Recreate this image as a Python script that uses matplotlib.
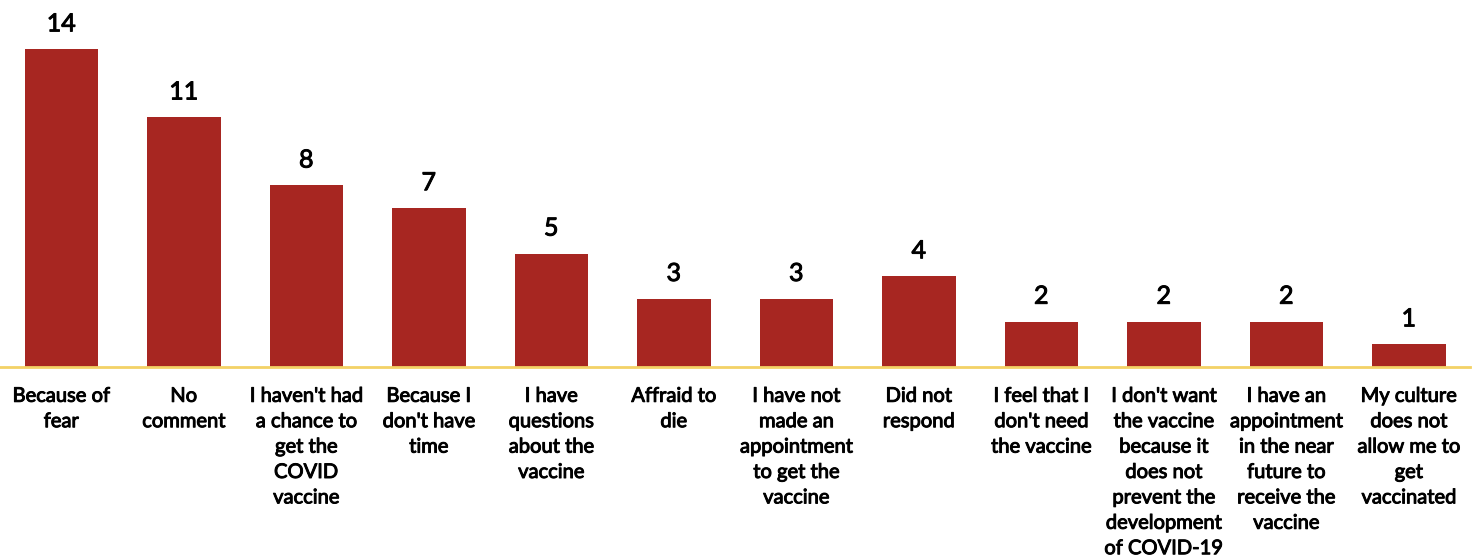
import matplotlib
matplotlib.use("Agg")
import matplotlib.pyplot as plt
import matplotlib.patheffects as pe

# ── Data ──────────────────────────────────────────────────────────────────────
reasons = [
    "Because of\nfear",
    "No\ncomment",
    "I haven't had\na chance to\nget the\nCOVID\nvaccine",
    "Because I\ndon't have\ntime",
    "I have\nquestions\nabout the\nvaccine",
    "Affraid to\ndie",
    "I have not\nmade an\nappointment\nto get the\nvaccine",
    "Did not\nrespond",
    "I feel that I\ndon't need\nthe vaccine",
    "I don't want\nthe vaccine\nbecause it\ndoes not\nprevent the\ndevelopment\nof COVID-19",
    "I have an\nappointment\nin the near\nfuture to\nreceive the\nvaccine",
    "My culture\ndoes not\nallow me to\nget\nvaccinated",
]
counts = [14, 11, 8, 7, 5, 3, 3, 4, 2, 2, 2, 1]

BAR_COLOR = "#A72621"
AXIS_COLOR = "#F3D266"

plt.rcParams["font.family"] = ["Lato", "DejaVu Sans"]

# slightly heavier strokes, the original font is a touch bolder than Lato
thicken = [pe.withStroke(linewidth=0.7, foreground="black")]

fig = plt.figure(figsize=(14.81, 5.56), dpi=100)
ax = fig.add_axes([0.0, 0.34, 0.9926, 0.653])

x = range(len(reasons))
bars = ax.bar(x, counts, width=0.6, color=BAR_COLOR, zorder=2)

for rect, val in zip(bars, counts):
    ax.annotate(str(val),
                xy=(rect.get_x() + rect.get_width() / 2, rect.get_height()),
                xytext=(0, 10), textcoords="offset points",
                ha="center", va="bottom", fontsize=18, color="black",
                path_effects=thicken)

ax.set_xlim(-0.5, len(reasons) - 0.5)
ax.set_ylim(0, 16)
ax.set_xticks(list(x))
ax.set_xticklabels(reasons, fontsize=14.5, linespacing=1.6, color="black")
for lbl in ax.get_xticklabels():
    lbl.set_path_effects(thicken)
ax.tick_params(axis="x", length=0, pad=15)
ax.set_yticks([])

for side in ("top", "right", "left"):
    ax.spines[side].set_visible(False)
ax.spines["bottom"].set_color(AXIS_COLOR)
ax.spines["bottom"].set_linewidth(2)

fig.savefig("out.png", dpi=100, facecolor="white")
